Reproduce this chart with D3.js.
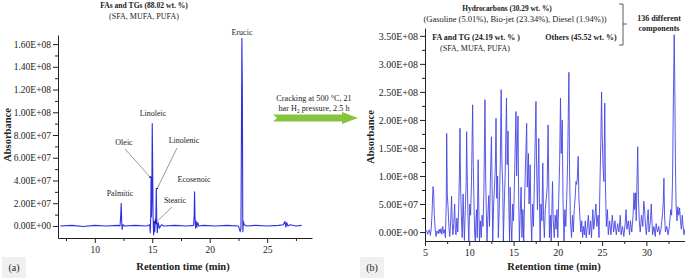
<!DOCTYPE html>
<html>
<head>
<meta charset="utf-8">
<script src="https://cdn.jsdelivr.net/npm/d3@7"></script>
<style>
  body { margin: 0; background: #fff; }
  svg text { font-family: "Liberation Serif", "Times New Roman", serif; fill: #222; }
</style>
</head>
<body>
<div id="chart"></div>
<script>
// ---- data (signal values in units of 1E+07) ----
const unit = 1e7;

// panel (a): feedstock chromatogram, [retention time (min), signal]
const traceA = [
  [7.0, 0.0], [8.0, 0.05], [9.0, -0.05], [10.0, 0.05], [11.0, 0.0], [12.0, 0.05],
  [12.2, 0.0], [12.26, 1.0], [12.3, 2.0], [12.34, 0.5], [12.38, -0.3], [12.45, 0.1], [12.6, 0.0],
  [13.5, 0.05], [14.5, 0.0], [14.78, 0.1], [14.83, -0.6], [14.87, 1.0], [14.9, 4.3], [14.93, 0.8],
  [14.96, 2.0], [15.0, 9.0], [15.03, 6.0], [15.07, 1.0], [15.12, -0.8], [15.18, 0.4],
  [15.22, -0.5], [15.27, 0.6], [15.31, 0.2], [15.35, 3.3], [15.39, 0.5], [15.44, -0.6],
  [15.52, 0.3], [15.62, -0.2], [15.8, 0.1], [16.0, 0.0], [17.0, 0.05], [18.0, 0.0],
  [18.6, 0.05], [18.65, 1.0], [18.68, 3.0], [18.72, 0.8], [18.77, -0.2], [18.82, 0.4],
  [18.88, -0.1], [18.95, 0.3], [19.05, 0.0], [19.5, 0.05], [20.5, 0.0], [21.5, 0.05],
  [22.5, 0.0], [22.65, -0.5], [22.72, -0.2], [22.76, 8.0], [22.8, 16.5], [22.84, 12.0],
  [22.88, -0.5], [22.93, 0.4], [23.0, 0.1], [23.2, 0.0], [24.0, 0.05], [25.0, 0.0],
  [26.0, 0.05], [26.4, 0.1], [26.55, 0.4], [26.62, -0.1], [26.7, 0.3], [26.8, 0.0],
  [27.0, 0.1], [27.5, 0.0], [28.0, 0.05]
];

// peak names in panel (a): [label, retention time, signal]
const peaksA = [
  ["Palmitic", 12.3, 2.0],
  ["Oleic", 14.9, 4.3],
  ["Linoleic", 15.0, 9.0],
  ["Stearic", 15.22, 0.3],
  ["Linolenic", 15.35, 3.3],
  ["Ecosenoic", 18.68, 3.0],
  ["Erucic", 22.8, 16.5]
];

// panel (b): cracked product chromatogram, [retention time (min), signal]
const traceB = [
  [5.0, 0.0], [5.1, 0.3], [5.2, 0.2], [5.3, -0.4], [5.4, 0.2], [5.5, 0.4], [5.6, -0.6], [5.7, 0.5],
  [5.8, 3.5], [5.9, 8.1], [5.97, 7.6], [6.05, 3.0], [6.15, 0.5], [6.25, -0.8], [6.35, 0.2],
  [6.5, -0.3], [6.6, 0.5], [6.7, -0.2], [6.8, 0.6], [6.9, -0.4], [7.0, 1.0], [7.1, -0.2],
  [7.2, 0.4], [7.3, -1.0], [7.4, 5.0], [7.45, 17.6], [7.52, 6.6], [7.6, 4.5], [7.7, 1.0],
  [7.8, -0.8], [7.9, 2.0], [8.0, 6.4], [8.08, 1.5], [8.15, -0.5], [8.25, 1.5], [8.35, 5.0],
  [8.42, 0.5], [8.5, -0.5], [8.6, 2.5], [8.7, 0.0], [8.8, 4.0], [8.88, 10.0], [8.95, 18.5],
  [9.02, 8.0], [9.1, 3.0], [9.2, -1.0], [9.3, 6.8], [9.38, 2.0], [9.45, -1.5], [9.55, 4.0],
  [9.65, 9.0], [9.7, 17.9], [9.77, 10.0], [9.85, 3.0], [9.95, -1.6], [10.05, 5.0], [10.15, 3.0],
  [10.25, 9.0], [10.38, 22.7], [10.45, 12.0], [10.52, 6.3], [10.6, 0.0], [10.68, -1.6],
  [10.75, 2.0], [10.82, 4.0], [10.9, -1.0], [11.0, 12.9], [11.07, 5.0], [11.15, -1.6],
  [11.25, 2.0], [11.35, -1.0], [11.45, 3.0], [11.55, 1.0], [11.65, 7.0], [11.77, 23.6],
  [11.85, 10.0], [11.92, 4.0], [12.0, -1.6], [12.1, 3.0], [12.2, 6.5], [12.28, 1.0],
  [12.38, 9.0], [12.5, 17.0], [12.58, 8.0], [12.65, -1.6], [12.75, 5.0], [12.85, 8.0],
  [12.95, 12.0], [13.02, 20.3], [13.1, 6.0], [13.2, 10.0], [13.28, -1.0], [13.38, 4.0],
  [13.5, 12.0], [13.6, 25.4], [13.68, 13.0], [13.78, 8.0], [13.85, -1.6], [13.95, 5.0],
  [14.05, 10.0], [14.2, 23.9], [14.28, 12.0], [14.38, 18.0], [14.45, 6.0], [14.55, -1.6],
  [14.62, 8.0], [14.7, 2.0], [14.8, -1.6], [14.9, 5.0], [15.0, 2.0], [15.1, 9.0],
  [15.27, 21.5], [15.35, 10.0], [15.5, 20.7], [15.58, 6.0], [15.66, -1.6], [15.75, 3.0],
  [15.85, 8.0], [15.95, -1.0], [16.05, 4.0], [16.15, -1.6], [16.25, 6.0], [16.35, 12.0],
  [16.48, 19.4], [16.55, 8.0], [16.68, 14.0], [16.75, 5.0], [16.88, 12.0], [16.95, 3.0],
  [17.05, -1.6], [17.15, 5.0], [17.25, 1.0], [17.35, 9.0], [17.53, 23.3], [17.6, 12.0],
  [17.7, 4.0], [17.85, 16.7], [17.92, 6.0], [18.0, -1.6], [18.1, 5.0], [18.2, 2.0],
  [18.3, 12.3], [18.38, 3.0], [18.48, -1.0], [18.58, 4.0], [18.7, 6.0], [18.8, 8.0],
  [18.9, 19.1], [18.98, 8.0], [19.05, -1.0], [19.15, 3.0], [19.25, -1.6], [19.4, 9.0],
  [19.48, 2.0], [19.6, -1.0], [19.7, 3.0], [19.8, 0.5], [19.9, 4.0], [20.0, -1.0],
  [20.1, 6.0], [20.2, 12.0], [20.3, 23.9], [20.38, 14.0], [20.5, 20.0], [20.58, 6.0],
  [20.7, -1.6], [20.8, 4.0], [20.9, 1.0], [21.0, 6.0], [21.1, 12.0], [21.25, 28.5],
  [21.33, 10.0], [21.42, 2.0], [21.55, -1.0], [21.65, 3.0], [21.75, 0.0], [21.85, 4.0],
  [21.95, 6.0], [22.05, 9.0], [22.12, 8.5], [22.2, 9.5], [22.3, 13.5], [22.38, 6.0],
  [22.48, 3.0], [22.6, 0.0], [22.7, 2.0], [22.8, -1.0], [22.9, 1.0], [23.0, -0.5],
  [23.1, 2.0], [23.2, -1.0], [23.3, 0.5], [23.45, 3.0], [23.55, -0.5], [23.7, 2.0],
  [23.8, -1.0], [23.95, 4.0], [24.05, 0.5], [24.15, 2.0], [24.3, 5.0], [24.4, 1.0],
  [24.55, 3.0], [24.65, -1.0], [24.75, 8.0], [24.85, 16.0], [24.94, 25.0], [25.0, 18.0],
  [25.1, 12.0], [25.2, 9.0], [25.3, 23.0], [25.38, 8.0], [25.48, 1.0], [25.6, 4.0],
  [25.7, -0.5], [25.85, 2.0], [26.0, -0.5], [26.15, 3.0], [26.3, 0.0], [26.45, 2.0],
  [26.6, -0.5], [26.75, 1.5], [26.9, 0.0], [27.05, 3.0], [27.15, -0.5], [27.3, 1.0],
  [27.45, -0.8], [27.6, 1.5], [27.7, 4.0], [27.8, 0.5], [27.95, 2.0], [28.1, -0.5],
  [28.2, 2.0], [28.35, 0.0], [28.5, 3.0], [28.6, 7.0], [28.68, 4.0], [28.78, 7.0],
  [28.85, 2.0], [28.95, 10.0], [29.02, 15.2], [29.1, 6.0], [29.2, 2.0], [29.3, 0.0],
  [29.45, 3.0], [29.6, 1.0], [29.7, 5.5], [29.78, 4.5], [29.9, 1.0], [30.0, -0.5],
  [30.1, 2.0], [30.2, 4.0], [30.3, 0.0], [30.45, 2.0], [30.55, 5.0], [30.6, 3.0],
  [30.7, -0.5], [30.85, 1.0], [31.0, -0.8], [31.1, 1.5], [31.25, 0.0], [31.4, 1.0],
  [31.5, -0.5], [31.65, 0.5], [31.8, 3.0], [31.9, 5.0], [31.98, 9.6], [32.05, 3.0],
  [32.15, 0.0], [32.3, 1.0], [32.45, -0.5], [32.6, 1.0], [32.75, 4.0], [32.85, 3.0],
  [32.95, 9.0], [33.05, 24.0], [33.14, 35.2], [33.2, 28.0], [33.28, 12.0], [33.35, 5.0],
  [33.45, 2.0], [33.55, 4.5], [33.65, 3.0], [33.75, 4.3], [33.85, 2.0], [33.95, 0.5],
  [34.05, 3.0], [34.15, 1.0], [34.25, -0.5], [34.35, 0.5]
];

// tick values
const xTicksA = [10, 15, 20, 25];
const xMinorA = [7.5, 12.5, 17.5, 22.5, 27.5];
const yTicksA = [0, 2e7, 4e7, 6e7, 8e7, 1e8, 1.2e8, 1.4e8, 1.6e8];
const yMinorA = [1e7, 3e7, 5e7, 7e7, 9e7, 1.1e8, 1.3e8, 1.5e8];
const xTicksB = [5, 10, 15, 20, 25, 30];
const xMinorB = [7.5, 12.5, 17.5, 22.5, 27.5, 32.5];
const yTicksB = [0, 5e7, 1e8, 1.5e8, 2e8, 2.5e8, 3e8, 3.5e8];
const yMinorB = [2.5e7, 7.5e7, 1.25e8, 1.75e8, 2.25e8, 2.75e8, 3.25e8];

// "1.60E+08" style labels
function sci(v) {
  const parts = d3.format(".2e")(v).split("e");
  const n = +parts[1];
  return parts[0] + "E" + (n < 0 ? "-" : "+") + String(Math.abs(n)).padStart(2, "0");
}

const svg = d3.select("#chart")
  .append("svg")
  .attr("width", 685)
  .attr("height", 279);

const ink = "#222";

// small helper for free text
function label(x, y, str, size, bold) {
  return svg.append("text")
    .attr("x", x).attr("y", y)
    .attr("text-anchor", "middle")
    .attr("fill", ink)
    .style("font-size", size)
    .style("font-weight", bold ? "bold" : "normal")
    .text(str);
}

// draw one panel: axes, ticks, trace
function panel(opt) {
  const x = d3.scaleLinear().domain(opt.xDomain).range(opt.xRange);
  const y = d3.scaleLinear().domain(opt.yDomain).range(opt.yRange);

  const g = svg.append("g");

  // minor ticks first, no labels
  g.append("g")
    .attr("transform", `translate(0,${opt.yRange[0]})`)
    .call(d3.axisBottom(x).tickValues(opt.xMinor).tickSize(3).tickFormat(""))
    .call(a => a.select(".domain").remove());
  g.append("g")
    .attr("transform", `translate(${opt.xRange[0]},0)`)
    .call(d3.axisLeft(y).tickValues(opt.yMinor).tickSize(3).tickFormat(""))
    .call(a => a.select(".domain").remove());

  // major ticks
  g.append("g")
    .attr("transform", `translate(0,${opt.yRange[0]})`)
    .call(d3.axisBottom(x).tickValues(opt.xTicks).tickSize(5).tickSizeOuter(0).tickPadding(3))
    .call(a => a.selectAll("text").style("font-size", opt.tickFont).style("font-family", "Liberation Serif"));
  g.append("g")
    .attr("transform", `translate(${opt.xRange[0]},0)`)
    .call(d3.axisLeft(y).tickValues(opt.yTicks).tickFormat(sci).tickSize(5).tickSizeOuter(0).tickPadding(2))
    .call(a => a.selectAll("text").style("font-size", opt.tickFont).style("font-family", "Liberation Serif"));

  g.selectAll(".domain, .tick line").attr("stroke", ink);
  g.selectAll(".tick text").attr("fill", ink);

  // clip the trace to the plot box
  svg.append("clipPath").attr("id", opt.id)
    .append("rect")
    .attr("x", opt.xRange[0]).attr("y", opt.yRange[1])
    .attr("width", opt.xRange[1] - opt.xRange[0])
    .attr("height", opt.yRange[0] - opt.yRange[1]);

  g.append("path")
    .datum(opt.trace)
    .attr("clip-path", `url(#${opt.id})`)
    .attr("fill", "none")
    .attr("stroke", opt.lineColor)
    .attr("stroke-width", opt.lineWidth)
    .attr("stroke-linejoin", "round")
    .attr("d", d3.line().x(d => x(d[0])).y(d => y(d[1] * unit)));

  // axis titles
  label((opt.xRange[0] + opt.xRange[1]) / 2 + opt.xTitleShift, 270, "Retention time (min)", "10.5px", true);
  svg.append("text")
    .attr("transform", `translate(${opt.yTitleX},${opt.yTitleY}) rotate(-90)`)
    .attr("text-anchor", "middle")
    .attr("fill", ink)
    .style("font-size", "10.5px")
    .style("font-weight", "bold")
    .text("Absorbance");

  // panel letter in a grey box
  g.append("rect")
    .attr("x", opt.letterX - 12).attr("y", 257)
    .attr("width", 24).attr("height", 21)
    .attr("fill", "#f0f0f0");
  label(opt.letterX, 271, opt.letter, "10px", false);

  return { x, y, g };
}

// ---- panel (a) ----
const A = panel({
  id: "clipA",
  xDomain: [6.8, 28.9], xRange: [58, 312],
  yDomain: [-1.06e7, 1.68e8], yRange: [238, 35],
  xTicks: xTicksA, xMinor: xMinorA, yTicks: yTicksA, yMinor: yMinorA,
  trace: traceA, tickFont: "9.5px", lineWidth: 1.1, lineColor: "#2f2fe2",
  xTitleShift: -2, yTitleX: 11, yTitleY: 135, letter: "(a)", letterX: 14
});

// peak labels, some with pointer lines
const labelPos = {
  "Palmitic": [120, 196],
  "Oleic": [124, 145],
  "Linoleic": [153, 116],
  "Stearic": [175, 203],
  "Linolenic": [184, 143],
  "Ecosenoic": [194, 182],
  "Erucic": [242, 35]
};
const pointerFrom = {
  "Oleic": [125, 149],
  "Linolenic": [177, 148],
  "Stearic": [172, 207]
};

svg.append("defs").append("marker")
  .attr("id", "dot")
  .attr("viewBox", "0 0 4 4")
  .attr("refX", 2).attr("refY", 2)
  .attr("markerWidth", 3).attr("markerHeight", 3)
  .append("circle").attr("cx", 2).attr("cy", 2).attr("r", 2).attr("fill", "#111");

peaksA.forEach(p => {
  const pos = labelPos[p[0]];
  label(pos[0], pos[1], p[0], "8px", false);
  if (pointerFrom[p[0]]) {
    const from = pointerFrom[p[0]];
    A.g.append("line")
      .attr("x1", from[0]).attr("y1", from[1])
      .attr("x2", A.x(p[1]) + (p[0] === "Oleic" ? -1 : 1))
      .attr("y2", A.y(p[2] * unit))
      .attr("stroke", "#555")
      .attr("stroke-width", 0.6)
      .attr("marker-end", "url(#dot)");
  }
});

// titles above panel (a)
label(144, 8, "FAs and TGs (88.02 wt. %)", "7.6px", true);
label(144, 19, "(SFA, MUFA, PUFA)", "8px", false);

// ---- green process arrow ----
svg.append("path")
  .attr("d", "M273,114.5 L342,114.5 L342,112 L358,118 L342,124 L342,121.5 L273,121.5 L277,118 Z")
  .attr("fill", "#86c440");
label(314, 101, "Cracking at 500 °C, 21", "8.2px", false);
const l2 = label(314, 111, "", "8.2px", false);
l2.append("tspan").text("bar H");
l2.append("tspan").attr("dy", 2).style("font-size", "5.5px").text("2");
l2.append("tspan").attr("dy", -2).text(" pressure, 2.5 h");

// ---- panel (b) ----
panel({
  id: "clipB",
  xDomain: [5, 34.36], xRange: [425, 685],
  yDomain: [-1.6e7, 3.64e8], yRange: [241, 28],
  xTicks: xTicksB, xMinor: xMinorB, yTicks: yTicksB, yMinor: yMinorB,
  trace: traceB, tickFont: "10px", lineWidth: 0.9, lineColor: "#4646e4",
  xTitleShift: -1, yTitleX: 374, yTitleY: 137, letter: "(b)", letterX: 372
});

// composition notes above panel (b)
label(507, 11, "Hydrocarbons (30.29 wt. %)", "7.4px", true);
label(515, 22, "(Gasoline (5.01%), Bio-jet (23.34%), Diesel (1.94%))", "8.5px", false);
label(476, 40, "FA and TG (24.19 wt. % )", "8px", true);
label(475, 51, "(SFA, MUFA, PUFA)", "8px", false);
label(581, 40, "Others (45.52 wt. %)", "8px", true);

// bracket grouping the three fractions
svg.append("path")
  .attr("d", "M619,4 L623,4 L623,45 L619,45 M623,24 L627,24")
  .attr("fill", "none").attr("stroke", "#333").attr("stroke-width", 0.8);
label(659, 21, "136 different", "8px", true);
label(659, 31, "components", "8px", true);
</script>
</body>
</html>
